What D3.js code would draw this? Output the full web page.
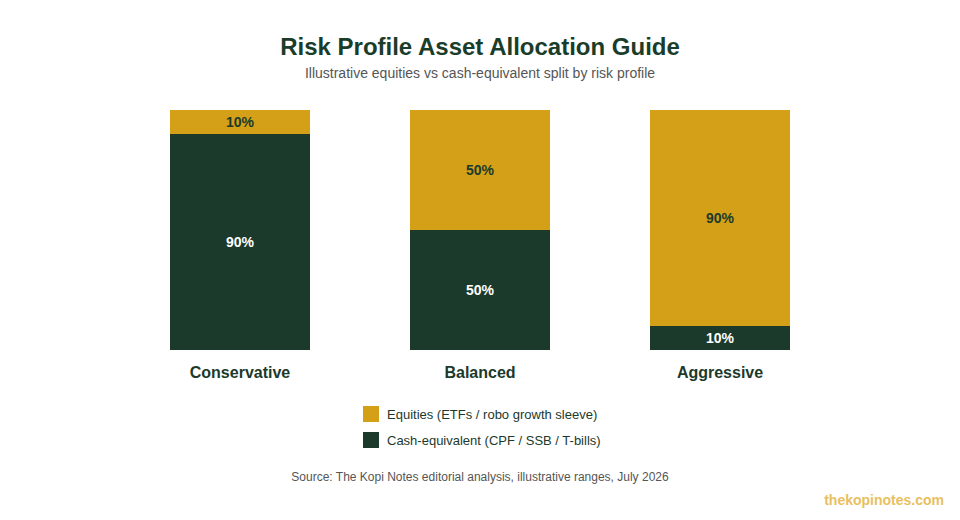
<!DOCTYPE html>
<html>
<head>
<meta charset="utf-8">
<script src="https://cdn.jsdelivr.net/npm/d3@7"></script>
<style>
  body { margin: 0; background: #fff; }
  text { font-family: "Liberation Sans", Arial, Helvetica, sans-serif; }
</style>
</head>
<body>
<svg id="chart" width="960" height="520"></svg>
<script>
// chart data
const profiles = ['Conservative', 'Balanced', 'Aggressive'];
const equities = [10, 50, 90];
const cashEquivalent = [90, 50, 10];
const seriesNames = ['Equities (ETFs / robo growth sleeve)', 'Cash-equivalent (CPF / SSB / T-bills)'];

const gold = '#d4a017';
const green = '#1b3a2b';

const svg = d3.select('#chart');

const x = d3.scaleBand()
  .domain(profiles)
  .range([120, 840])
  .paddingInner(5 / 12)
  .paddingOuter(5 / 24);

const y = d3.scaleLinear()
  .domain([0, 100])
  .range([350, 110]);

// stack: cash at the bottom, equities on top
const rows = profiles.map((p, i) => ({ profile: p, cash: cashEquivalent[i], equities: equities[i] }));
const stacked = d3.stack().keys(['cash', 'equities'])(rows);
const fills = { cash: green, equities: gold };
const labelColor = { cash: '#ffffff', equities: green };

const layers = svg.append('g')
  .selectAll('g')
  .data(stacked)
  .join('g')
  .attr('fill', d => fills[d.key]);

layers.selectAll('rect')
  .data(d => d)
  .join('rect')
  .attr('x', d => x(d.data.profile))
  .attr('width', x.bandwidth())
  .attr('y', d => y(d[1]))
  .attr('height', d => y(d[0]) - y(d[1]));

layers.each(function (layer) {
  d3.select(this).selectAll('text')
    .data(layer)
    .join('text')
    .attr('x', d => x(d.data.profile) + x.bandwidth() / 2)
    .attr('y', d => (y(d[0]) + y(d[1])) / 2)
    .attr('dy', '0.35em')
    .attr('text-anchor', 'middle')
    .attr('font-size', 14)
    .attr('font-weight', 'bold')
    .attr('fill', labelColor[layer.key])
    .text(d => (d[1] - d[0]) + '%');
});

// category labels
svg.append('g')
  .attr('transform', 'translate(0,350)')
  .call(d3.axisBottom(x).tickSize(0).tickPadding(17))
  .call(g => g.select('.domain').remove())
  .selectAll('text')
  .attr('font-size', 16)
  .attr('font-weight', 'bold')
  .attr('fill', green)
  .style('font-family', '"Liberation Sans", Arial, sans-serif');

// title
svg.append('text')
  .attr('x', 480).attr('y', 55)
  .attr('text-anchor', 'middle')
  .attr('font-size', 24)
  .attr('font-weight', 'bold')
  .attr('fill', '#1a3d2b')
  .text('Risk Profile Asset Allocation Guide');

svg.append('text')
  .attr('x', 480).attr('y', 78)
  .attr('text-anchor', 'middle')
  .attr('font-size', 14)
  .attr('fill', '#555')
  .text('Illustrative equities vs cash-equivalent split by risk profile');

// legend
const legend = svg.append('g').attr('transform', 'translate(363,406)');
const legendColors = [gold, green];
seriesNames.forEach((name, i) => {
  const row = legend.append('g').attr('transform', `translate(0,${i * 26})`);
  row.append('rect').attr('width', 16).attr('height', 16).attr('fill', legendColors[i]);
  row.append('text')
    .attr('x', 24).attr('y', 8).attr('dy', '0.35em')
    .attr('font-size', 13)
    .attr('fill', green)
    .text(name);
});

// source + watermark
svg.append('text')
  .attr('x', 480).attr('y', 481)
  .attr('text-anchor', 'middle')
  .attr('font-size', 12)
  .attr('fill', '#555')
  .text('Source: The Kopi Notes editorial analysis, illustrative ranges, July 2026');

svg.append('text')
  .attr('x', 944).attr('y', 505)
  .attr('text-anchor', 'end')
  .attr('font-size', 14)
  .attr('font-weight', 'bold')
  .attr('fill', '#e8c060')
  .text('thekopinotes.com');
</script>
</body>
</html>
